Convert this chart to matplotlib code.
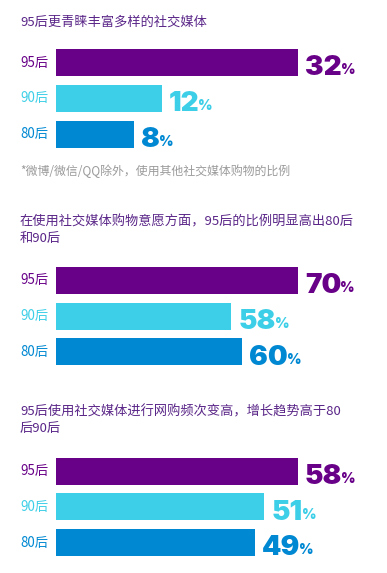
import matplotlib
matplotlib.use("Agg")
import matplotlib.pyplot as plt

plt.rcParams['font.family'] = ['Noto Sans CJK SC', 'DejaVu Sans']

# data
groups = ['95后', '90后', '80后']
titles = [
    '95后更青睐丰富多样的社交媒体',
    '在使用社交媒体购物意愿方面，95后的比例明显高出80后\n和90后',
    '95后使用社交媒体进行网购频次变高，增长趋势高于80\n后90后',
]
footnote = '*微博/微信/QQ除外，使用其他社交媒体购物的比例'
variety = [32, 12, 8]
willingness = [70, 58, 60]
frequency = [58, 51, 49]

colors = ['#680088', '#3dcfe7', '#0088d2']
title_color = '#5a2688'

W, H = 387, 573
fig = plt.figure(figsize=(W / 100, H / 100), dpi=100)
fig.patch.set_facecolor('white')

step = 35.8   # px between bar centres


def panel(values, c0, base):
    top = c0 - step / 2
    ax = fig.add_axes([56 / W, 1 - (top + 3 * step) / H, 242 / W, 3 * step / H])
    ax.barh(range(3), [v - base for v in values], left=base,
            height=27 / step, color=colors)
    ax.set_xlim(base, max(values))
    ax.set_ylim(2.5, -0.5)
    ax.axis('off')
    for i, (g, v, c) in enumerate(zip(groups, values, colors)):
        ax.annotate(g, xy=(0, i), xycoords=('axes fraction', 'data'),
                    xytext=(-36, 0), textcoords='offset pixels',
                    ha='left', va='center', fontsize=9.6, color=c)
        num = ax.annotate(str(v), xy=(v, i + 0.36), xytext=(7, 0),
                          textcoords='offset pixels', ha='left', va='baseline',
                          fontsize=20, fontweight='black', family='Inter',
                          color=c, annotation_clip=False)
        ax.annotate('%', xy=(1, 0), xycoords=num, xytext=(-1, 4),
                    textcoords='offset pixels', ha='left', va='bottom',
                    fontsize=10, fontweight='black', family='Inter', color=c)


fig.text(20 / W, 1 - 21.7 / H, titles[0], ha='left', va='center',
         fontsize=9.5, color=title_color)
fig.text(20 / W, 1 - 170.8 / H, footnote, ha='left', va='center',
         fontsize=8.6, color='#9a9a9a')
fig.text(20 / W, 1 - 229.9 / H, titles[1], ha='left', va='center',
         fontsize=9.5, color=title_color, linespacing=1.3)
fig.text(20 / W, 1 - 420.2 / H, titles[2], ha='left', va='center',
         fontsize=9.5, color=title_color, linespacing=1.3)

panel(variety, 62.5, -3.5)
panel(willingness, 280.3, 26.5)
panel(frequency, 471, 7.6)

fig.savefig('out.png', dpi=100, facecolor='white')
